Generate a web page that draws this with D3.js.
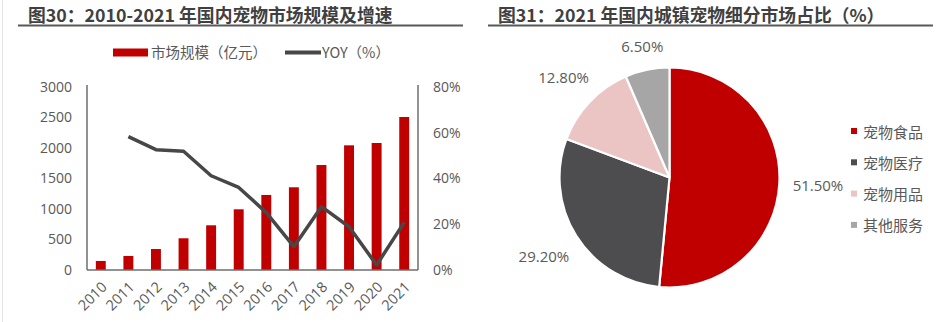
<!DOCTYPE html>
<html>
<head>
<meta charset="utf-8">
<script src="https://cdn.jsdelivr.net/npm/d3@7"></script>
<style>
  html, body { margin: 0; padding: 0; background: #fff; }
  svg { display: block; }
  text { font-family: "Open Sans", "Noto Sans CJK SC", sans-serif; }
  .cjk { font-family: "Noto Sans CJK SC", "Open Sans", sans-serif; }
</style>
</head>
<body>
<svg id="chart" width="948" height="322"></svg>
<script>
// ---- data: market size and growth ----
const years = ["2010","2011","2012","2013","2014","2015","2016","2017","2018","2019","2020","2021"];
const marketSize = [148, 230, 344, 520, 733, 995, 1230, 1356, 1721, 2044, 2082, 2508]; // 亿元
const yoy = [null, 58.3, 52.6, 51.9, 41.2, 36.1, 25.1, 10.2, 27.7, 18.9, 2.2, 20.8];   // %
const leftTicks = [0, 500, 1000, 1500, 2000, 2500, 3000];
const rightTicks = [0, 20, 40, 60, 80];

// ---- data: 2021 segment shares ----
const segments = ["宠物食品", "宠物医疗", "宠物用品", "其他服务"];
const shares = [51.5, 29.2, 12.8, 6.5];
const segColors = ["#C00000", "#4D4D4F", "#EBC4C4", "#A6A6A6"];

const svg = d3.select("#chart");
const textColor = "#595959";

// faint left frame edge
svg.append("line").attr("x1", 2.5).attr("x2", 2.5).attr("y1", 0).attr("y2", 322)
  .attr("stroke", "#e4e4e4").attr("stroke-width", 1);

// titles with underline
function title(x, lineX1, lineX2, txt) {
  svg.append("text").attr("class", "cjk").attr("x", x).attr("y", 22)
    .attr("font-size", 17.8).attr("font-weight", "bold").attr("fill", "#404040").text(txt);
  svg.append("line").attr("x1", lineX1).attr("x2", lineX2).attr("y1", 25.5).attr("y2", 25.5)
    .attr("stroke", "#595959").attr("stroke-width", 2);
}
title(28, 18, 463, "图30：2010-2021 年国内宠物市场规模及增速");
title(498, 488, 933, "图31：2021 年国内城镇宠物细分市场占比（%）");

// ---------- left: bars + line ----------
const plot = { left: 87, right: 418, top: 87, bottom: 270 };
const x = d3.scaleBand().domain(years).range([plot.left, plot.right]).paddingInner(0.64).paddingOuter(0.32);
const yL = d3.scaleLinear().domain([0, 3000]).range([plot.bottom, plot.top]);
const yR = d3.scaleLinear().domain([0, 80]).range([plot.bottom, plot.top]);

const g = svg.append("g");

g.selectAll("rect.bar").data(years).join("rect").attr("class", "bar")
  .attr("x", d => x(d)).attr("width", x.bandwidth())
  .attr("y", (d, i) => yL(marketSize[i]))
  .attr("height", (d, i) => yL(0) - yL(marketSize[i]))
  .attr("fill", "#C00000");

const line = d3.line()
  .defined(d => d.v !== null)
  .x(d => x(d.year) + x.bandwidth() / 2)
  .y(d => yR(d.v));
g.append("path")
  .datum(years.map((y, i) => ({ year: y, v: yoy[i] })))
  .attr("d", line).attr("fill", "none")
  .attr("stroke", "#474747").attr("stroke-width", 3.5).attr("stroke-linejoin", "round");

// axes
const axisColor = "#6e6e6e";
const leftAxis = g.append("g").attr("transform", `translate(${plot.left},0)`)
  .call(d3.axisLeft(yL).tickValues(leftTicks).tickSize(0).tickPadding(15).tickFormat(d3.format("d")));
const rightAxis = g.append("g").attr("transform", `translate(${plot.right},0)`)
  .call(d3.axisRight(yR).tickValues(rightTicks).tickSize(0).tickPadding(15).tickFormat(d => d + "%"));
[leftAxis, rightAxis].forEach(a => {
  a.select(".domain").attr("stroke", axisColor).attr("stroke-width", 1.5)
    .attr("d", `M0,${plot.bottom}V${plot.top - 2}`);
  a.selectAll("text").attr("font-size", 14).attr("fill", textColor).attr("font-family", "Open Sans");
});
const bottomAxis = g.append("g").attr("transform", `translate(0,${plot.bottom})`)
  .call(d3.axisBottom(x).tickSize(0).tickPadding(0));
bottomAxis.select(".domain").attr("stroke", axisColor).attr("stroke-width", 1.5)
  .attr("d", `M${plot.left},0H${plot.right}`);
bottomAxis.selectAll("text")
  .attr("font-size", 14.5).attr("fill", textColor).attr("font-family", "Open Sans")
  .attr("text-anchor", "end").attr("dy", 0)
  .attr("transform", "translate(7,18) rotate(-45)");

// legend
const lg = svg.append("g");
lg.append("rect").attr("x", 113).attr("y", 48.5).attr("width", 35).attr("height", 8).attr("fill", "#C00000");
lg.append("text").attr("class", "cjk").attr("x", 151).attr("y", 58).attr("font-size", 14.5)
  .attr("fill", textColor).text("市场规模（亿元）");
lg.append("line").attr("x1", 285).attr("x2", 321).attr("y1", 52.5).attr("y2", 52.5)
  .attr("stroke", "#474747").attr("stroke-width", 4);
lg.append("text").attr("class", "cjk").attr("x", 322).attr("y", 58).attr("font-size", 14.5)
  .attr("fill", textColor).text("YOY（%）");

// ---------- right: pie ----------
const cx = 669.5, cy = 177.5, r = 110;
const pie = d3.pie().sort(null).value(d => d);
const arcs = pie(shares);
const arc = d3.arc().innerRadius(0).outerRadius(r);
const pg = svg.append("g").attr("transform", `translate(${cx},${cy})`);
pg.selectAll("path").data(arcs).join("path")
  .attr("d", arc).attr("fill", (d, i) => segColors[i])
  .attr("stroke", "#fff").attr("stroke-width", 2.2).attr("stroke-linejoin", "bevel");

// value labels sit outside each slice, text box pushed away from the edge
const gap = 13, halfH = 7;
pg.selectAll("text.val").data(arcs).join("text").attr("class", "val")
  .attr("font-size", 15).attr("fill", textColor).attr("font-family", "Open Sans")
  .attr("text-anchor", "middle").attr("dominant-baseline", "central")
  .text(d => d.value.toFixed(2) + "%")
  .each(function (d) {
    const a = (d.startAngle + d.endAngle) / 2;
    const s = Math.sin(a), c = -Math.cos(a);
    const halfW = this.getComputedTextLength() / 2;
    const dist = r + gap + halfW * Math.abs(s) + halfH * Math.abs(c);
    d3.select(this).attr("x", dist * s).attr("y", dist * c);
  });

// pie legend
const pl = svg.append("g").attr("transform", "translate(851,131)");
const rows = pl.selectAll("g").data(segments).join("g")
  .attr("transform", (d, i) => `translate(0,${i * 31.3})`);
rows.append("rect").attr("x", 0).attr("y", -3).attr("width", 6).attr("height", 6)
  .attr("fill", (d, i) => segColors[i]);
rows.append("text").attr("class", "cjk").attr("x", 12).attr("y", 0)
  .attr("dominant-baseline", "central").attr("font-size", 15).attr("fill", textColor)
  .text(d => d);
</script>
</body>
</html>
